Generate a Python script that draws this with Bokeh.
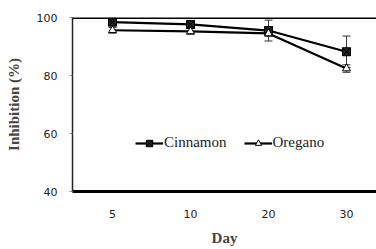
from bokeh.plotting import figure
from bokeh.models import ColumnDataSource, Whisker, Span, Legend, LegendItem, FixedTicker, Range1d
from bokeh.embed import file_html
from bokeh.resources import INLINE

days = ["5", "10", "20", "30"]
cinnamon = [98.4, 97.6, 95.5, 88.2]
cinnamon_err = [0.6, 0.6, 3.6, 5.4]
oregano = [95.6, 95.2, 94.5, 82.4]
oregano_err = [1.0, 1.0, 1.0, 1.3]
y_ticks = [40, 60, 80, 100]

xs = list(range(len(days)))

src_c = ColumnDataSource(dict(x=xs, y=cinnamon,
                              lo=[v - e for v, e in zip(cinnamon, cinnamon_err)],
                              hi=[v + e for v, e in zip(cinnamon, cinnamon_err)]))
src_o = ColumnDataSource(dict(x=xs, y=oregano,
                              lo=[v - e for v, e in zip(oregano, oregano_err)],
                              hi=[v + e for v, e in zip(oregano, oregano_err)]))

p = figure(width=376, height=249, output_backend="svg", toolbar_location=None,
           x_range=Range1d(-0.513, 3.385), y_range=Range1d(40, 100),
           min_border_left=72, min_border_right=0, min_border_top=17, min_border_bottom=58)
p.outline_line_color = None
p.grid.visible = False
p.background_fill_color = "white"

for src in (src_c, src_o):
    w = Whisker(source=src, base="x", upper="hi", lower="lo", line_color="#333333",
                line_width=1)
    w.upper_head.size = 8
    w.lower_head.size = 8
    w.upper_head.line_color = "#333333"
    w.lower_head.line_color = "#333333"
    p.add_layout(w)

lc = p.line("x", "y", source=src_c, line_color="black", line_width=2.2)
mc = p.scatter("x", "y", source=src_c, marker="square_x", size=8,
               fill_color="#222222", line_color="black", line_width=1)
lo_ = p.line("x", "y", source=src_o, line_color="black", line_width=2.2)
mo = p.scatter("x", "y", source=src_o, marker="triangle", size=8,
               fill_color="white", line_color="black", line_width=1)

p.add_layout(Span(location=100, dimension="width", line_color="black", line_width=3))

# axes
p.xaxis.ticker = FixedTicker(ticks=xs)
p.xaxis.major_label_overrides = {i: d for i, d in zip(xs, days)}
p.xaxis.axis_line_width = 3
p.xaxis.axis_line_color = "black"
p.xaxis.major_tick_line_color = None
p.xaxis.minor_tick_line_color = None
p.xaxis.major_tick_in = 0
p.xaxis.major_tick_out = 0
p.xaxis.major_label_standoff = 18
p.xaxis.major_label_text_font = "DejaVu Sans"
p.xaxis.major_label_text_font_size = "11px"
p.xaxis.major_label_text_color = "#222222"
p.xaxis.axis_label = "Day"
p.xaxis.axis_label_text_font = "Liberation Serif"
p.xaxis.axis_label_text_font_style = "bold"
p.xaxis.axis_label_text_font_size = "15px"
p.xaxis.axis_label_standoff = 9

p.yaxis.ticker = FixedTicker(ticks=y_ticks)
p.yaxis.axis_line_width = 1.5
p.yaxis.axis_line_color = "#222222"
p.yaxis.major_tick_in = 0
p.yaxis.major_tick_out = 3
p.yaxis.major_tick_line_color = "#888888"
p.yaxis.minor_tick_line_color = None
p.yaxis.major_label_standoff = 12
p.yaxis.major_label_text_font = "DejaVu Sans"
p.yaxis.major_label_text_font_size = "11px"
p.yaxis.major_label_text_color = "#222222"
p.yaxis.axis_label = "Inhibition (%)"
p.yaxis.axis_label_text_font = "Liberation Serif"
p.yaxis.axis_label_text_font_style = "bold"
p.yaxis.axis_label_text_font_size = "15px"
p.yaxis.axis_label_standoff = 12

legend = Legend(items=[LegendItem(label="Cinnamon", renderers=[lc, mc]),
                       LegendItem(label="Oregano", renderers=[lo_, mo])],
                orientation="horizontal", location=(63, 40),
                padding=0, margin=0, spacing=17, glyph_width=28, glyph_height=16,
                label_standoff=1, border_line_color=None, background_fill_alpha=0,
                label_text_font="Liberation Serif", label_text_font_size="15px",
                label_text_color="#222222")
p.add_layout(legend, "center")

open("out.html", "w").write(file_html(p, INLINE))
